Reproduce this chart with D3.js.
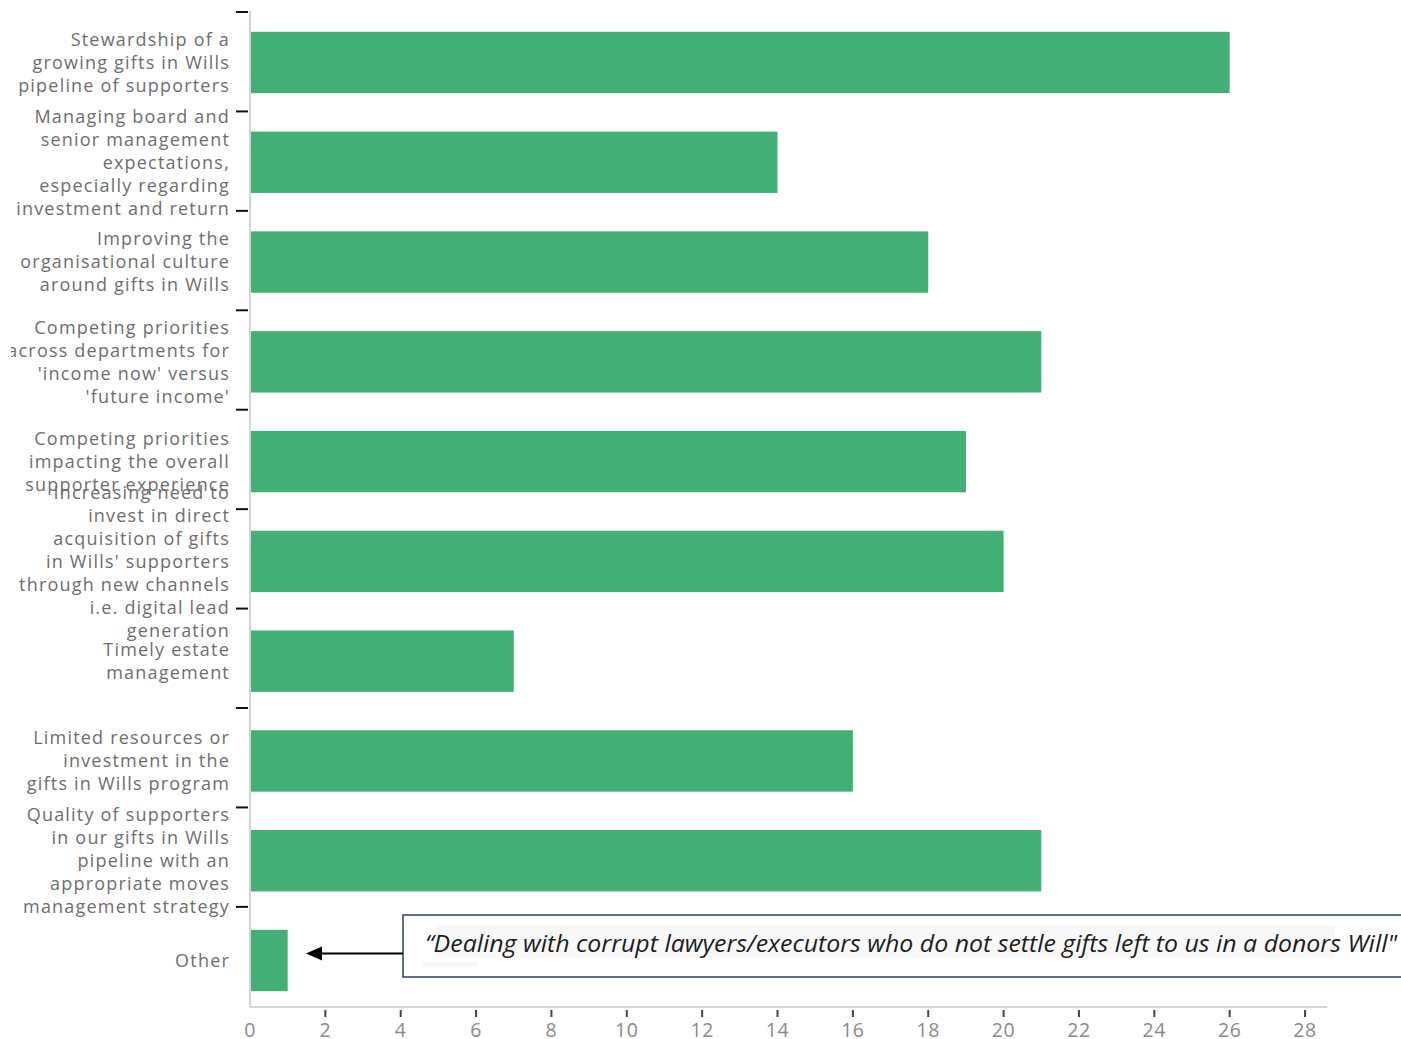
<!DOCTYPE html>
<html>
<head>
<meta charset="utf-8">
<script src="https://cdn.jsdelivr.net/npm/d3@7"></script>
<style>
  html, body { margin: 0; padding: 0; background: #fff; }
  svg { display: block; }
</style>
</head>
<body>
<svg id="chart" width="1401" height="1039"></svg>
<script>
// Challenges reported for gifts in Wills programs (number of responses)
const categories = [
  ["Stewardship of a", "growing gifts in Wills", "pipeline of supporters"],
  ["Managing board and", "senior management", "expectations,", "especially regarding", "investment and return"],
  ["Improving the", "organisational culture", "around gifts in Wills"],
  ["Competing priorities", "across departments for", "'income now' versus", "'future income'"],
  ["Competing priorities", "impacting the overall", "supporter experience"],
  ["Increasing need to", "invest in direct", "acquisition of gifts", "in Wills' supporters", "through new channels", "i.e. digital lead", "generation"],
  ["Timely estate", "management"],
  ["Limited resources or", "investment in the", "gifts in Wills program"],
  ["Quality of supporters", "in our gifts in Wills", "pipeline with an", "appropriate moves", "management strategy"],
  ["Other"]
];
const values = [26, 14, 18, 21, 19, 20, 7, 16, 21, 1];
const xTicks = [0, 2, 4, 6, 8, 10, 12, 14, 16, 18, 20, 22, 24, 26, 28];
const otherQuote = "\u201CDealing with corrupt lawyers/executors who do not settle gifts left to us in a donors Will\"";

const svg = d3.select("#chart");
const plot = { left: 250, right: 1327, top: 12.6, bottom: 1007 };

const keys = categories.map((c, i) => i);
const x = d3.scaleLinear().domain([0, 28]).range([plot.left, plot.left + 28 * 37.68]);
const y = d3.scaleBand().domain(keys).range([plot.top, 1010.4])
  .paddingInner(0.385).paddingOuter(0.1925);

// left edge of the drawing is cropped
svg.append("defs").append("clipPath").attr("id", "clip")
  .append("rect").attr("x", 11).attr("y", 0).attr("width", 1390).attr("height", 1039);

const g = svg.append("g").attr("clip-path", "url(#clip)");

// bars
g.append("g").selectAll("rect").data(values).join("rect")
  .attr("x", x(0) + 1)
  .attr("y", (d, i) => y(i))
  .attr("width", d => x(d) - x(0) - 1)
  .attr("height", y.bandwidth())
  .attr("fill", "#43ae75");

// axis lines
g.append("line").attr("x1", plot.left).attr("x2", plot.left)
  .attr("y1", 11).attr("y2", plot.bottom)
  .attr("stroke", "#d4d4d4").attr("stroke-width", 2);
g.append("line").attr("x1", plot.left).attr("x2", plot.right)
  .attr("y1", plot.bottom).attr("y2", plot.bottom)
  .attr("stroke", "#d4d4d4").attr("stroke-width", 2);

// category boundary ticks on the left axis
const step = y.step();
const boundaries = keys.map(i => y(i) - step * y.paddingOuter() - 0.6 - i * 0.35);
g.append("g").selectAll("line").data(boundaries).join("line")
  .attr("x1", 236).attr("x2", 248)
  .attr("y1", d => d).attr("y2", d => d)
  .attr("stroke", "#111").attr("stroke-width", 2);

// category labels
const lineH = 23;
const labels = g.append("g")
  .attr("font-family", "'Open Sans', sans-serif")
  .attr("font-size", 18)
  .attr("letter-spacing", 1.2)
  .attr("fill", "#6e6e6e")
  .attr("text-anchor", "end");
categories.forEach((lines, i) => {
  const cy = y(i) + y.bandwidth() / 2;
  const t = labels.append("text").attr("x", 230);
  lines.forEach((ln, j) => {
    t.append("tspan").attr("x", 230)
      .attr("y", cy + (j - (lines.length - 1) / 2) * lineH)
      .attr("dy", "0.35em")
      .text(ln);
  });
});

// x axis ticks and labels
const xt = g.append("g");
xt.selectAll("line").data(xTicks.filter(d => d > 0)).join("line")
  .attr("x1", d => x(d)).attr("x2", d => x(d))
  .attr("y1", plot.bottom + 3).attr("y2", plot.bottom + 10)
  .attr("stroke", "#444").attr("stroke-width", 2);
xt.selectAll("text").data(xTicks).join("text")
  .attr("x", d => x(d)).attr("y", 1030).attr("dy", "0.35em")
  .attr("text-anchor", "middle")
  .attr("font-family", "'Open Sans', sans-serif")
  .attr("font-size", 19.5).attr("letter-spacing", 0.6).attr("fill", "#8a8a8a")
  .text(d => d);

// quote annotation for "Other"
const otherY = y(9) + y.bandwidth() / 2;
const box = { x: 403, y: 915, w: 1010, h: 62 };
svg.append("rect").attr("x", box.x).attr("y", box.y).attr("width", box.w).attr("height", box.h)
  .attr("fill", "#fff").attr("stroke", "#2e3d6b").attr("stroke-width", 1.5);
svg.append("rect").attr("x", 435).attr("y", 925).attr("width", 900).attr("height", 33)
  .attr("fill", "#f8f8f8");
svg.append("rect").attr("x", 423).attr("y", 962).attr("width", 54).attr("height", 5)
  .attr("fill", "#f8f8f8");
svg.append("text").attr("x", 425).attr("y", 952)
  .attr("font-family", "'Open Sans', sans-serif")
  .attr("font-style", "italic").attr("font-size", 24).attr("fill", "#1e1e1e")
  .attr("textLength", 972).attr("lengthAdjust", "spacingAndGlyphs")
  .text(otherQuote);

// arrow pointing at the "Other" bar
svg.append("line").attr("x1", box.x).attr("x2", 318)
  .attr("y1", otherY - 7).attr("y2", otherY - 7)
  .attr("stroke", "#000").attr("stroke-width", 2.2);
svg.append("path")
  .attr("d", d3.line()([[306, otherY - 7], [322, otherY - 14], [322, otherY]]) + "Z")
  .attr("fill", "#000");
</script>
</body>
</html>
